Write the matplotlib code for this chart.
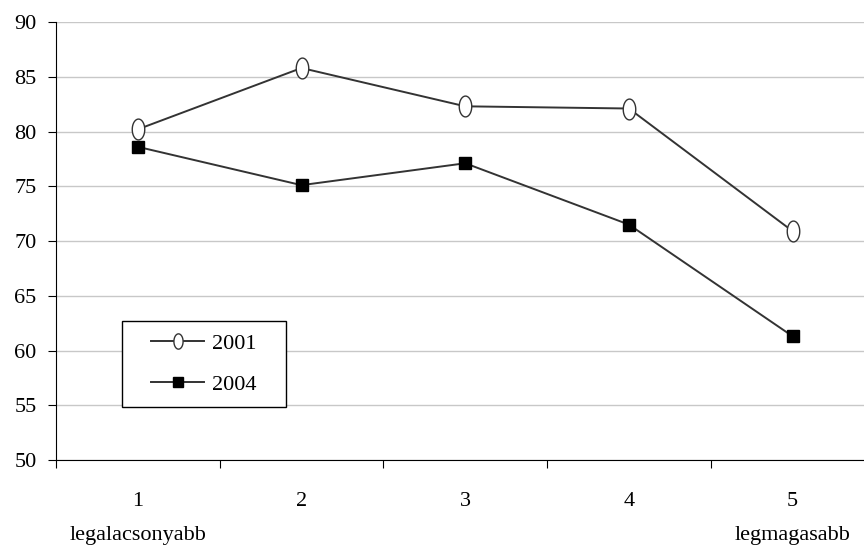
import matplotlib.pyplot as plt
import numpy as np
from matplotlib.path import Path
from matplotlib.patches import Rectangle

plt.rcParams["font.family"] = ["Liberation Serif", "DejaVu Serif"]

categories = [1, 2, 3, 4, 5]
cat_labels = ["1\nlegalacsonyabb", "2\n", "3\n", "4\n", "5\nlegmagasabb"]
values_2001 = [80.2, 85.8, 82.3, 82.1, 70.9]
values_2004 = [78.6, 75.1, 77.1, 71.5, 61.3]

# tall ellipse marker for the 2001 series
t = np.linspace(0, 2 * np.pi, 60)
ellipse = Path(np.column_stack([0.6 * np.cos(t), np.sin(t)]), closed=True)

fig = plt.figure(figsize=(8.64, 5.46), dpi=100)
# the plot area runs a little past the right edge, as in the source image
ax = fig.add_axes([0.0648, 0.1575, 0.9473, 0.8022])

ax.plot(categories, values_2001, color="#333333", lw=1.4, marker=ellipse,
        markersize=15, markerfacecolor="white", markeredgecolor="#333333",
        markeredgewidth=1.0, label="2001", zorder=3)
ax.plot(categories, values_2004, color="#333333", lw=1.4, marker="s",
        markersize=8, markerfacecolor="black", markeredgecolor="black",
        label="2004", zorder=3)

ax.set_ylim(50, 90)
ax.set_yticks(np.arange(50, 91, 5))
ax.set_xlim(0.5, 5.5)
ax.set_xticks(np.arange(0.5, 5.6, 1.0))
ax.set_xticklabels([])
ax.set_xticks(categories, minor=True)
ax.set_xticklabels(cat_labels, minor=True, linespacing=2.1)
ax.tick_params(axis="x", which="minor", length=0, pad=23, labelsize=16)
ax.tick_params(axis="x", which="major", length=6, direction="out", color="black")
ax.tick_params(axis="y", length=6, direction="out", labelsize=16, pad=8)

ax.grid(axis="y", color="#c8c8c8", lw=1.0)
ax.set_axisbelow(True)
for side in ["top", "right"]:
    ax.spines[side].set_visible(False)
ax.spines["left"].set_color("black")
ax.spines["bottom"].set_color("black")

# legend box: square frame drawn separately so the inner padding can be wider
frame = Rectangle((0.0806, 0.121), 0.2004, 0.196, transform=ax.transAxes,
                  facecolor="white", edgecolor="black", lw=1.0, zorder=4)
ax.add_patch(frame)
leg = ax.legend(loc="center", bbox_to_anchor=(0.0806 + 0.1002, 0.121 + 0.098),
                fontsize=16, frameon=False, borderpad=0, borderaxespad=0,
                handlelength=2.4, labelspacing=0.95, handletextpad=0.35)
leg.set_zorder(5)
leg.legend_handles[0].set_markersize(11)
leg.legend_handles[1].set_markersize(7)

fig.savefig("out.png", dpi=100)
